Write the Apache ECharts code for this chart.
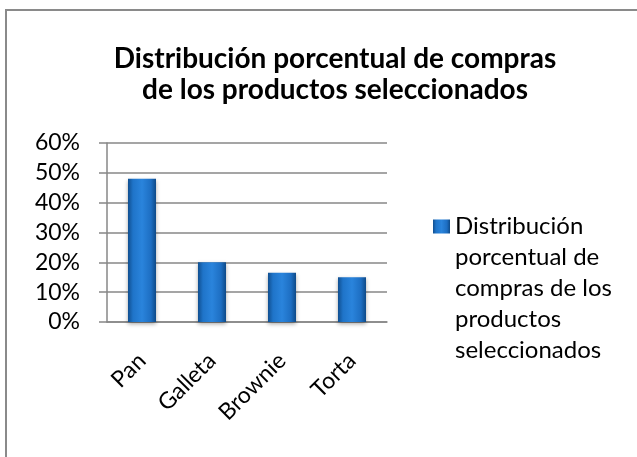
<!DOCTYPE html>
<html>
<head>
<meta charset="utf-8">
<script src="https://cdn.jsdelivr.net/npm/echarts@6/dist/echarts.min.js"></script>
<style>
  html, body { margin: 0; padding: 0; background: #fff; }
  #chart { width: 637px; height: 457px; }
</style>
</head>
<body>
<div id="chart"></div>
<script>
// Purchase share per product
const categories = ['Pan', 'Galleta', 'Brownie', 'Torta'];
const shares = [0.48, 0.20, 0.165, 0.15];
const seriesName = 'Distribución\nporcentual de\ncompras de los\nproductos\nseleccionados';
const titleText = 'Distribución porcentual de compras\nde los productos seleccionados';
const yTicks = { min: 0, max: 0.6, step: 0.1 };

const FONT = 'Lato, "Open Sans", sans-serif';
const LEGEND_LINE = 31;
const LEGEND_LINES = seriesName.split('\n').length;
const chart = echarts.init(document.getElementById('chart'), null, { renderer: 'canvas' });

const barFill = new echarts.graphic.LinearGradient(0, 0, 1, 0, [
  { offset: 0, color: '#104f90' },
  { offset: 0.18, color: '#1f74c9' },
  { offset: 0.5, color: '#2a84dc' },
  { offset: 0.82, color: '#1d6ec2' },
  { offset: 1, color: '#0e4a88' }
]);

// Legend swatch sits beside the first text line: a square near the top of a tall
// symbol box, with two hair-thin anchors fixing the box corners.
const SW = 17;
const blockH = LEGEND_LINE * LEGEND_LINES;
const sq0 = LEGEND_LINE / 2 - 7, sq1 = LEGEND_LINE / 2 + 7;
const legendIcon = 'path://M0,0L0.01,0L0,0.01Z' +
  'M0,' + sq0 + 'L' + SW + ',' + sq0 + 'L' + SW + ',' + sq1 + 'L0,' + sq1 + 'Z' +
  'M' + SW + ',' + blockH + 'L' + (SW - 0.01) + ',' + blockH + 'L' + SW + ',' + (blockH - 0.01) + 'Z';

chart.setOption({
  animation: false,
  backgroundColor: '#ffffff',
  title: {
    text: titleText,
    left: 330,
    top: 38,
    textAlign: 'center',
    textStyle: {
      fontFamily: FONT,
      fontSize: 28,
      fontWeight: 'bold',
      color: '#000',
      lineHeight: 31
    }
  },
  legend: {
    left: 428,
    top: 206,
    orient: 'vertical',
    icon: legendIcon,
    itemWidth: SW,
    itemHeight: blockH,
    symbolKeepAspect: false,
    selectedMode: false,
    textStyle: {
      fontFamily: FONT,
      fontSize: 24,
      color: '#000',
      lineHeight: LEGEND_LINE
    },
    data: [{ name: seriesName, itemStyle: { color: barFill } }]
  },
  grid: {
    left: 107,
    right: 250,
    top: 143,
    bottom: 135,
    containLabel: false
  },
  xAxis: {
    type: 'category',
    data: categories,
    axisLine: { lineStyle: { color: '#878787', width: 1.5 } },
    axisTick: { show: false },
    axisLabel: {
      rotate: 45,
      margin: 35,
      fontFamily: FONT,
      fontSize: 23,
      color: '#000'
    }
  },
  yAxis: {
    type: 'value',
    min: yTicks.min,
    max: yTicks.max,
    interval: yTicks.step,
    axisLine: { show: true, lineStyle: { color: '#878787', width: 1.5 } },
    axisTick: { show: true, length: 8, lineStyle: { color: '#878787', width: 1.5 } },
    splitLine: { lineStyle: { color: '#878787', width: 1.5 } },
    axisLabel: {
      margin: 27,
      fontFamily: FONT,
      fontSize: 23,
      color: '#000',
      formatter: v => Math.round(v * 100) + '%'
    }
  },
  series: [{
    name: seriesName,
    type: 'bar',
    data: shares,
    barWidth: '40%',
    itemStyle: {
      color: barFill,
      shadowColor: 'rgba(0,0,0,0.35)',
      shadowBlur: 4,
      shadowOffsetY: 2
    }
  }],
  graphic: [{
    type: 'rect',
    shape: { x: 6, y: 10, width: 700, height: 500 },
    style: { fill: 'none', stroke: '#8a8a8a', lineWidth: 2 },
    silent: true,
    z: 100
  }]
});
</script>
</body>
</html>
